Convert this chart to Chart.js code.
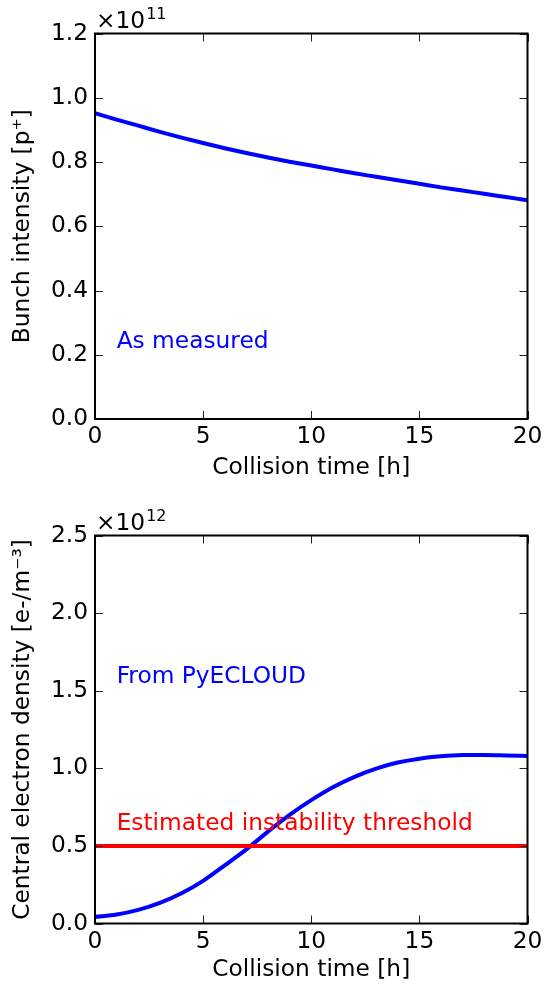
<!DOCTYPE html>
<html>
<head>
<meta charset="utf-8">
<script src="https://cdn.jsdelivr.net/npm/chart.js@4/dist/chart.umd.min.js"></script>
<style>
  html, body { margin: 0; padding: 0; background: #fff; }
  #wrap { position: relative; width: 544px; height: 986px; }
  .c { position: absolute; left: 0; width: 544px; height: 493px; }
</style>
</head>
<body>
<div id="wrap">
  <canvas id="c1" class="c" style="top:0"></canvas>
  <canvas id="c2" class="c" style="top:493px"></canvas>
</div>
<script>
// ---- data ----
const hours = [0,1,2,3,4,5,6,7,8,9,10,11,12,13,14,15,16,17,18,19,20];
// bunch intensity, units of 1e11 p+
const intensity = [0.952,0.932,0.913,0.894,0.876,0.859,0.843,0.828,0.814,0.801,0.789,0.777,0.765,0.754,0.743,0.732,0.721,0.711,0.701,0.691,0.681];
// central electron density, units of 1e12 e-/m^3
const density = [0.043,0.058,0.088,0.133,0.195,0.275,0.375,0.478,0.592,0.700,0.795,0.878,0.945,0.998,1.037,1.062,1.077,1.085,1.086,1.083,1.079];
const thresholdX = [0, 20];
const thresholdY = [0.5, 0.5];
const xTickValues = [0, 5, 10, 15, 20];
const yTicksTop = [0.0, 0.2, 0.4, 0.6, 0.8, 1.0, 1.2];
const yTicksBottom = [0.0, 0.5, 1.0, 1.5, 2.0, 2.5];

const FONT = "'DejaVu Sans', sans-serif";
const FS = 23.3;

function pts(xs, ys) { return xs.map((x, i) => ({ x: x, y: ys[i] })); }

// plugin: frame, inward ticks, offset text, annotations
function decorPlugin(expText, notes) {
  return {
    id: 'decor',
    afterDraw(chart) {
      const ctx = chart.ctx;
      const a = chart.chartArea;
      const xs = chart.scales.x, ys = chart.scales.y;
      ctx.save();
      // inward ticks
      ctx.strokeStyle = '#222';
      ctx.lineWidth = 1;
      const L = 8;
      xs.ticks.forEach(t => {
        const px = Math.round(xs.getPixelForValue(t.value)) + 0.5;
        ctx.beginPath();
        ctx.moveTo(px, a.bottom); ctx.lineTo(px, a.bottom - L);
        ctx.moveTo(px, a.top); ctx.lineTo(px, a.top + L);
        ctx.stroke();
      });
      ys.ticks.forEach(t => {
        const py = Math.round(ys.getPixelForValue(t.value)) + 0.5;
        ctx.beginPath();
        ctx.moveTo(a.left, py); ctx.lineTo(a.left + L, py);
        ctx.moveTo(a.right, py); ctx.lineTo(a.right - L, py);
        ctx.stroke();
      });
      // frame
      ctx.strokeStyle = '#000';
      ctx.lineWidth = 2;
      ctx.strokeRect(a.left, a.top, a.right - a.left, a.bottom - a.top);
      // offset text  ×10^n
      ctx.fillStyle = '#000';
      ctx.textBaseline = 'alphabetic';
      ctx.textAlign = 'left';
      ctx.font = FS + 'px ' + FONT;
      const base = a.top - 6;
      const x0 = a.left + 1;
      ctx.fillText('\u00d710', x0, base);
      const w = ctx.measureText('\u00d710').width;
      ctx.font = '16px ' + FONT;
      ctx.fillText(expText, x0 + w + 1, base - 9);
      // annotations
      ctx.font = FS + 'px ' + FONT;
      notes.forEach(n => {
        ctx.fillStyle = n.color;
        ctx.fillText(n.text, xs.getPixelForValue(n.x), ys.getPixelForValue(n.y));
      });
      ctx.restore();
    }
  };
}

function makeChart(id, cfg) {
  return new Chart(document.getElementById(id), {
    type: 'line',
    data: { datasets: cfg.datasets },
    options: {
      responsive: false,
      animation: false,
      devicePixelRatio: 1,
      layout: { padding: { top: cfg.top, right: 16.5, left: 0, bottom: 0 } },
      plugins: { legend: { display: false }, tooltip: { enabled: false } },
      elements: { point: { radius: 0 } },
      scales: {
        x: {
          type: 'linear', min: 0, max: 20,
          afterBuildTicks: s => { s.ticks = xTickValues.map(v => ({ value: v })); },
          afterFit: s => { s.height = cfg.xHeight; s.paddingLeft = 0; s.paddingRight = 0; },
          grid: { display: false, drawTicks: false },
          border: { display: false },
          ticks: { color: '#000', font: { family: FONT, size: FS }, padding: 4, maxRotation: 0,
                   callback: v => String(v) },
          title: { display: true, text: 'Collision time [h]', color: '#000',
                   font: { family: FONT, size: FS }, padding: { top: 0, bottom: cfg.xTitlePad } }
        },
        y: {
          type: 'linear', min: 0, max: cfg.ymax,
          afterBuildTicks: s => { s.ticks = cfg.yTicks.map(v => ({ value: v })); },
          afterFit: s => { s.width = 95; s.paddingTop = 0; s.paddingBottom = 0; },
          grid: { display: false, drawTicks: false },
          border: { display: false },
          ticks: { color: '#000', font: { family: FONT, size: FS }, padding: 7,
                   callback: v => Number(v).toFixed(1) },
          title: { display: true, text: cfg.yTitle, color: '#000',
                   font: { family: FONT, size: FS }, padding: { top: 9, bottom: 0 } }
        }
      }
    },
    plugins: [decorPlugin(cfg.exp, cfg.notes)]
  });
}

const c1 = document.getElementById('c1'); c1.width = 544; c1.height = 493;
const c2 = document.getElementById('c2'); c2.width = 544; c2.height = 493;

makeChart('c1', {
  top: 33.5, xHeight: 74, xTitlePad: 11, ymax: 1.2, yTicks: yTicksTop,
  yTitle: 'Bunch intensity [p\u207a]', exp: '11',
  datasets: [{
    data: pts(hours, intensity), borderColor: '#0000ff', borderWidth: 4,
    cubicInterpolationMode: 'monotone', fill: false
  }],
  notes: [{ text: 'As measured', x: 1, y: 0.22, color: '#0000ff' }]
});

makeChart('c2', {
  top: 42.5, xHeight: 62.5, xTitlePad: 2.5, ymax: 2.5, yTicks: yTicksBottom,
  yTitle: 'Central electron density [e-/m\u207b\u00b3]', exp: '12',
  datasets: [
    { data: pts(thresholdX, thresholdY), borderColor: '#ff0000', borderWidth: 4, fill: false },
    { data: pts(hours, density), borderColor: '#0000ff', borderWidth: 4,
      cubicInterpolationMode: 'monotone', fill: false }
  ],
  notes: [
    { text: 'From PyECLOUD', x: 1, y: 1.55, color: '#0000ff' },
    { text: 'Estimated instability threshold', x: 1, y: 0.6, color: '#ff0000' }
  ]
});
</script>
</body>
</html>
